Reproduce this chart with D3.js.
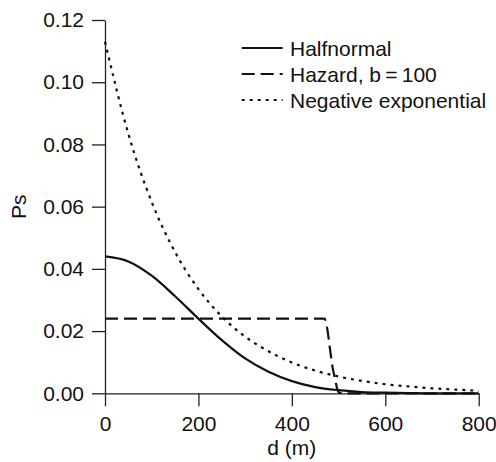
<!DOCTYPE html>
<html>
<head>
<meta charset="utf-8">
<script src="https://cdn.jsdelivr.net/npm/d3@7"></script>
<style>
  body { margin: 0; background: #fff; }
  svg { display: block; }
  text { font-family: "Liberation Sans", Arial, Helvetica, sans-serif; fill: #111; }
</style>
</head>
<body>
<svg id="chart"></svg>
<script>
// distance (m)
const halfnormalD = [0, 50, 100, 150, 200, 250, 300, 350, 400, 450, 500, 550, 600, 650, 700, 750, 800]
const halfnormalP = [0.0440, 0.0424, 0.0378, 0.0312, 0.0240, 0.0171, 0.0112, 0.0069, 0.0039, 0.0020, 0.0010, 0.0004, 0.0002, 0.0001, 0.0000, 0.0000, 0.0000]

const hazardD = [0, 470, 475, 481, 487, 493, 497, 500, 510, 800]
const hazardP = [0.0240, 0.0240, 0.0215, 0.0150, 0.0085, 0.0043, 0.0015, 0.0003, 0.0000, 0.0000]

const negexpD = [0, 50, 100, 150, 200, 250, 300, 350, 400, 450, 500, 550, 600, 650, 700, 750, 800]
const negexpP = [0.1130, 0.0834, 0.0615, 0.0454, 0.0335, 0.0247, 0.0182, 0.0135, 0.0099, 0.0073, 0.0054, 0.0040, 0.0029, 0.0022, 0.0016, 0.0012, 0.0008]

const xTicks = [0, 200, 400, 600, 800]
const yTicks = [0, 0.02, 0.04, 0.06, 0.08, 0.10, 0.12]
const legendLabels = ['Halfnormal', 'Hazard, b\u2009=\u2009100', 'Negative exponential']

const width = 496, height = 462
const margin = {top: 20, right: 17.3, bottom: 68.7, left: 105}
const fontSize = 21

const svg = d3.select('#chart')
  .attr('width', width)
  .attr('height', height)

const x = d3.scaleLinear().domain([0, 800]).range([margin.left, width - margin.right])
const y = d3.scaleLinear().domain([0, 0.12]).range([height - margin.bottom, margin.top])

// axes
const xAxis = svg.append('g')
  .attr('transform', `translate(0, ${y(0)})`)
  .call(d3.axisBottom(x).tickValues(xTicks).tickSize(13).tickSizeOuter(0).tickPadding(10).tickFormat(d3.format('d')))
const yAxis = svg.append('g')
  .attr('transform', `translate(${x(0)}, 0)`)
  .call(d3.axisLeft(y).tickValues(yTicks).tickSize(13).tickSizeOuter(0).tickPadding(8).tickFormat(d3.format('.2f')))

;[xAxis, yAxis].forEach(a => {
  a.selectAll('path, line').attr('stroke', '#222').attr('stroke-width', 1.3)
  a.selectAll('text').attr('font-size', fontSize).attr('fill', '#111')
    .style('font-family', '"Liberation Sans", Arial, sans-serif')
})

svg.append('text')
  .attr('x', (x(0) + x(800)) / 2)
  .attr('y', 455)
  .attr('text-anchor', 'middle')
  .attr('font-size', fontSize)
  .text('d (m)')

svg.append('text')
  .attr('transform', `translate(25.5, ${(y(0) + y(0.12)) / 2}) rotate(-90)`)
  .attr('text-anchor', 'middle')
  .attr('font-size', fontSize)
  .text('Ps')

// curves
const series = [
  {d: halfnormalD, p: halfnormalP, dash: null},
  {d: hazardD, p: hazardP, dash: '13,6'},
  {d: negexpD, p: negexpP, dash: '3,5'}
]

const line = d3.line()
  .x(d => x(d[0]))
  .y(d => y(d[1]))
  .curve(d3.curveMonotoneX)

series.forEach(s => {
  svg.append('path')
    .datum(d3.zip(s.d, s.p))
    .attr('d', line)
    .attr('fill', 'none')
    .attr('stroke', '#111')
    .attr('stroke-width', 2.2)
    .attr('stroke-dasharray', s.dash)
})

// legend
const legend = svg.append('g')
const rowY = [48, 74, 100]
legendLabels.forEach((lbl, i) => {
  legend.append('line')
    .attr('x1', 241.7).attr('x2', 282.7)
    .attr('y1', rowY[i]).attr('y2', rowY[i])
    .attr('stroke', '#111')
    .attr('stroke-width', 2.2)
    .attr('stroke-dasharray', series[i].dash)
  legend.append('text')
    .attr('x', 290)
    .attr('y', rowY[i] + 7.5)
    .attr('font-size', fontSize)
    .text(lbl)
})
</script>
</body>
</html>
